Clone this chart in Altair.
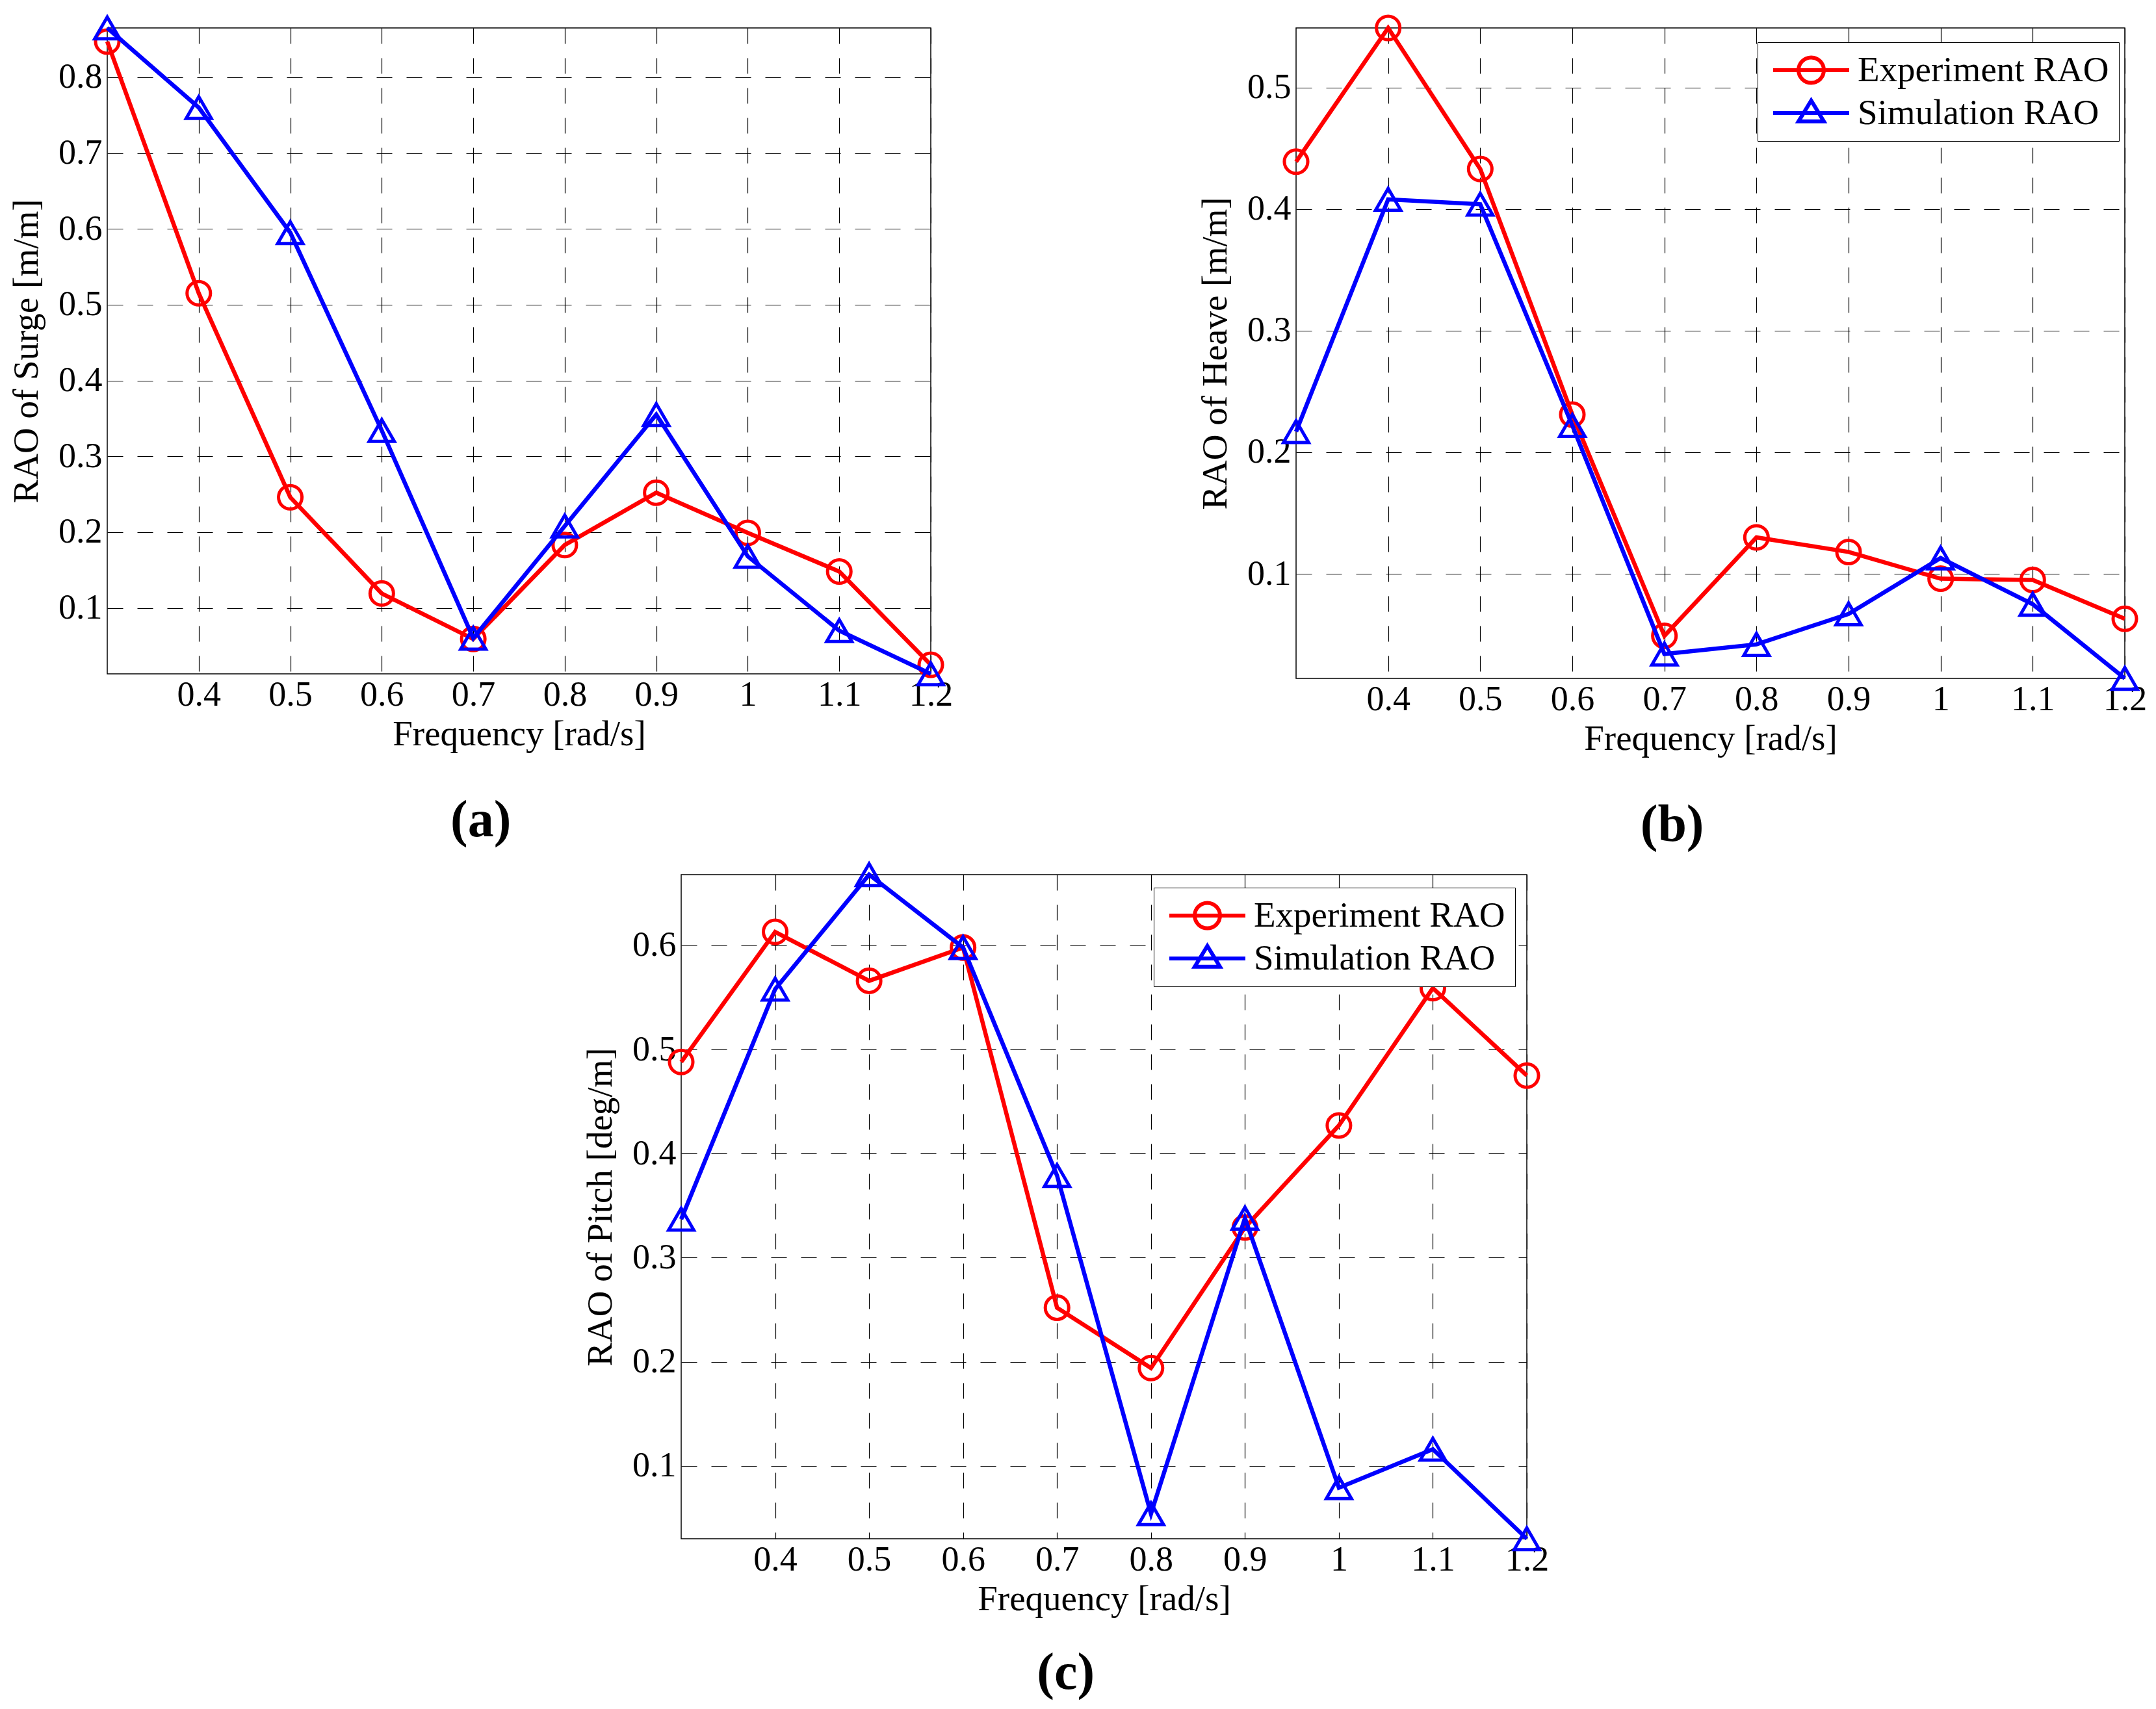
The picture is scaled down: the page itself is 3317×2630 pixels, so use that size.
import pandas as pd
import altair as alt

freq = [0.3, 0.4, 0.5, 0.6, 0.7, 0.8, 0.9, 1.0, 1.1, 1.2]
series_names = ["Experiment RAO", "Simulation RAO"]
series_colors = ["#ff0000", "#0000ff"]
series_shapes = ["circle", "triangle-up"]

# RAO values
surge_exp = [0.847, 0.515, 0.246, 0.119, 0.059, 0.183, 0.252, 0.199, 0.148, 0.025]
surge_sim = [0.865, 0.760, 0.595, 0.334, 0.060, 0.208, 0.355, 0.168, 0.070, 0.013]
heave_exp = [0.439, 0.549, 0.433, 0.231, 0.049, 0.130, 0.118, 0.096, 0.095, 0.063]
heave_sim = [0.217, 0.408, 0.404, 0.222, 0.034, 0.042, 0.067, 0.113, 0.075, 0.014]
pitch_exp = [0.488, 0.613, 0.566, 0.598, 0.252, 0.194, 0.329, 0.427, 0.559, 0.475]
pitch_sim = [0.337, 0.558, 0.668, 0.598, 0.379, 0.054, 0.338, 0.079, 0.116, 0.030]

x_ticks = [0.4, 0.5, 0.6, 0.7, 0.8, 0.9, 1.0, 1.1, 1.2]
surge_ticks = [0.1, 0.2, 0.3, 0.4, 0.5, 0.6, 0.7, 0.8]
heave_ticks = [0.1, 0.2, 0.3, 0.4, 0.5]
pitch_ticks = [0.1, 0.2, 0.3, 0.4, 0.5, 0.6]

FONT = "Liberation Serif"

# legend symbols: a line segment with the marker in the middle
legend_paths = [
    "M-1,0L1,0M0.333,0A0.333,0.333 0 1,1 -0.333,0A0.333,0.333 0 1,1 0.333,0",
    "M-1,0L1,0M0,-0.33L-0.333,0.22L0.333,0.22Z",
]


def make_legend(lx, ly):
    return alt.Legend(
        title=None, orient="none", legendX=lx, legendY=ly,
        symbolSize=13689, symbolStrokeWidth=6, symbolOffset=6, symbolOpacity=1,
        symbolFillColor="transparent", labelOffset=10, labelLimit=1000,
        labelFont=FONT, labelFontSize=55, labelColor="black",
        padding=15, rowPadding=10, clipHeight=56,
        fillColor="white", strokeColor="black",
    )


def panel(exp, sim, ytitle, yticks, caption, w, h, legend_pos=None, cap_offset=67):
    df = pd.DataFrame({
        "freq": freq * 2,
        "rao": exp + sim,
        "series": [series_names[0]] * len(freq) + [series_names[1]] * len(freq),
    })
    x = alt.X("freq:Q", title="Frequency [rad/s]",
              scale=alt.Scale(domain=[freq[0], freq[-1]], nice=False, zero=False),
              axis=alt.Axis(values=x_ticks, format="~g"))
    y = alt.Y("rao:Q", title=ytitle,
              scale=alt.Scale(domain=[min(exp + sim), max(exp + sim)], nice=False, zero=False),
              axis=alt.Axis(values=yticks, format="~g"))
    layers = []
    for name, col, shape, size in zip(series_names, series_colors, series_shapes, [1300, 1500]):
        sub = alt.Chart(df).transform_filter(alt.datum.series == name)
        layers.append(sub.mark_line(strokeWidth=6.5, color=col).encode(x=x, y=y))
        layers.append(sub.mark_point(shape=shape, filled=False, size=size, strokeWidth=5,
                                     opacity=1, color=col).encode(x=x, y=y))
    if legend_pos is not None:
        leg = make_legend(*legend_pos)
        # empty layer that only carries the legend
        layers.append(
            alt.Chart(df).transform_filter("false")
            .mark_point(filled=False)
            .encode(
                x=x, y=y,
                color=alt.Color("series:N", scale=alt.Scale(domain=series_names, range=series_colors), legend=leg),
                shape=alt.Shape("series:N", scale=alt.Scale(domain=series_names, range=legend_paths), legend=leg),
            )
        )
    return alt.layer(*layers).properties(
        width=w, height=h,
        title=alt.TitleParams(caption, orient="bottom", anchor="middle", frame="bounds", offset=cap_offset),
    )


a = panel(surge_exp, surge_sim, "RAO of Surge [m/m]", surge_ticks, "(a)", 1267, 994)
b = panel(heave_exp, heave_sim, "RAO of Heave [m/m]", heave_ticks, "(b)", 1275, 1001,
          legend_pos=(710, 22))
c = panel(pitch_exp, pitch_sim, "RAO of Pitch [deg/m]", pitch_ticks, "(c)", 1301, 1022,
          legend_pos=(727, 20), cap_offset=48)

spacer = (
    alt.Chart(pd.DataFrame({"f": freq[:1]}))
    .mark_point(opacity=0)
    .encode(x=alt.X("f:Q", axis=None), y=alt.Y("f:Q", axis=None))
    .properties(width=726, height=10, view=alt.ViewBackground(stroke="transparent"))
)

top = alt.hconcat(a, b, spacing=374).resolve_scale(color="independent", shape="independent")
bottom = alt.hconcat(spacer, c, spacing=0).resolve_scale(color="independent", shape="independent")

chart = (
    alt.vconcat(top, bottom, spacing=7)
    .resolve_scale(color="independent", shape="independent")
    .properties(padding={"left": 4, "top": 6, "right": 5, "bottom": 5})
    .configure_axis(labelFont=FONT, labelFontSize=54, labelColor="black",
                    titleFont=FONT, titleFontSize=55, titleFontWeight="normal", titleColor="black",
                    grid=True, gridColor="black", gridDash=[24, 22], gridWidth=1.2, gridOpacity=1,
                    domain=False, ticks=False)
    .configure_axisX(labelPadding=5, titlePadding=7, labelFlush=False)
    .configure_axisY(labelPadding=8, titlePadding=20)
    .configure_view(stroke="black", strokeWidth=1.5)
    .configure_title(font=FONT, fontSize=80, fontWeight="bold", color="black")
)

chart.save("out.html", embed_options={"renderer": "svg", "actions": False})
